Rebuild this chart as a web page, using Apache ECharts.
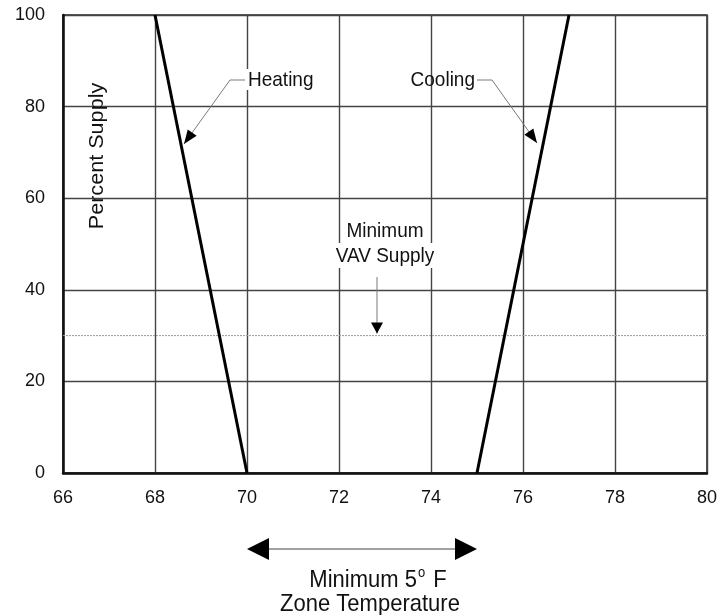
<!DOCTYPE html>
<html>
<head>
<meta charset="utf-8">
<script src="https://cdn.jsdelivr.net/npm/echarts@6/dist/echarts.min.js"></script>
<style>html,body{margin:0;padding:0;background:#fff}#c{width:720px;height:615px}</style>
</head>
<body>
<div id="c"></div>
<script>
// ---- data ----
const heatingTemp = [68, 70];
const heatingPct = [100, 0];
const coolingTemp = [75, 77];
const coolingPct = [0, 100];
const minVavPct = 30;
const xRange = [66, 80];
const yRange = [0, 100];
const xTickStep = 2;
const yTickStep = 20;
const deadbandTemp = [70, 75];

const FONT = '"Liberation Sans", Arial, sans-serif';
const chart = echarts.init(document.getElementById('c'));

const option = {
  animation: false,
  backgroundColor: '#fff',
  grid: { left: 63, right: 13, top: 15, bottom: 142, show: true, borderColor: '#222', borderWidth: 1.5 },
  xAxis: {
    type: 'value', min: xRange[0], max: xRange[1], interval: xTickStep,
    axisLine: { show: true, lineStyle: { color: '#111', width: 2.5 } },
    axisTick: { show: false },
    axisLabel: { color: '#111', fontSize: 18, fontFamily: FONT, margin: 16 },
    splitLine: { show: true, lineStyle: { color: '#444', width: 1.4 } }
  },
  yAxis: {
    type: 'value', min: yRange[0], max: yRange[1], interval: yTickStep,
    axisLine: { show: true, lineStyle: { color: '#111', width: 2.5 } },
    axisTick: { show: false },
    axisLabel: { color: '#111', fontSize: 18, fontFamily: FONT, margin: 18 },
    splitLine: { show: true, lineStyle: { color: '#444', width: 1.4 } }
  },
  series: [
    {
      type: 'line', name: 'MinVAV', symbol: 'none', silent: true,
      data: [[xRange[0], minVavPct], [xRange[1], minVavPct]],
      lineStyle: { color: '#999', width: 1, type: [2, 1] }, z: 1
    },
    {
      type: 'line', name: 'Heating', symbol: 'none',
      data: heatingTemp.map((t, i) => [t, heatingPct[i]]),
      lineStyle: { color: '#000', width: 3 }, z: 5
    },
    {
      type: 'line', name: 'Cooling', symbol: 'none',
      data: coolingTemp.map((t, i) => [t, coolingPct[i]]),
      lineStyle: { color: '#000', width: 3 }, z: 5
    }
  ]
};
chart.setOption(option);

const P = (x, y) => chart.convertToPixel({ gridIndex: 0 }, [x, y]);

function head(tip, from, L, W) {
  const dx = tip[0] - from[0], dy = tip[1] - from[1];
  const d = Math.hypot(dx, dy), ux = dx / d, uy = dy / d;
  const bx = tip[0] - ux * L, by = tip[1] - uy * L;
  return { type: 'polygon', z: 20, shape: { points: [tip, [bx - uy * W, by + ux * W], [bx + uy * W, by - ux * W]] }, style: { fill: '#000' } };
}
function line(pts, color) {
  return { type: 'polyline', z: 19, shape: { points: pts }, style: { stroke: color || '#7a7a7a', lineWidth: 1, fill: null } };
}
function txt(x, y, text, size, align) {
  return { type: 'text', z: 21, x: x, y: y, scaleY: 1.1, style: { text: text, fill: '#111', font: size + 'px ' + FONT, align: align || 'center', verticalAlign: 'middle' } };
}

const g = [];
// Heating annotation
const hTip = [184, 144];
const hKnee = [230, 80];
g.push({ type: 'rect', z: 18, shape: { x: 244, y: 69, width: 72, height: 21 }, style: { fill: '#fff' } });
g.push(txt(248, 80, 'Heating', 19, 'left'));
g.push(line([[245, 80], hKnee, hTip]));
g.push(head(hTip, hKnee, 14, 5.5));
// Cooling annotation
const cTip = [537, 143];
const cKnee = [492, 80];
g.push(txt(475, 80, 'Cooling', 19, 'right'));
g.push(line([[477, 80], cKnee, cTip]));
g.push(head(cTip, cKnee, 14, 5.5));
// Minimum VAV supply
const mvX = P(73, 0)[0];
g.push(txt(mvX, 231, 'Minimum', 19, 'center'));
g.push({ type: 'rect', z: 18, shape: { x: mvX - 50, y: 243, width: 100, height: 25 }, style: { fill: '#fff' } });
g.push(txt(mvX, 256, 'VAV Supply', 19, 'center'));
const mvTip = [mvX - 8, P(73, minVavPct)[1] - 2];
g.push(line([[mvX - 8, 277], mvTip]));
g.push(head(mvTip, [mvX - 8, 277], 11, 6));
// y axis title
g.push({ type: 'text', z: 21, x: 97, y: 156, rotation: Math.PI / 2, scaleX: 1.08, style: { text: 'Percent Supply', fill: '#111', font: '20px ' + FONT, align: 'center', verticalAlign: 'middle' } });
// bottom deadband arrow
const a0 = [P(deadbandTemp[0], 0)[0], 549];
const a1 = [P(deadbandTemp[1], 0)[0], 549];
g.push(line([[a0[0] + 20, 549], [a1[0] - 20, 549]], '#444'));
g.push(head(a0, [a0[0] + 30, 549], 22, 11));
g.push(head(a1, [a1[0] - 30, 549], 22, 11));
const bx = (a0[0] + a1[0]) / 2;
g.push({ type: 'text', z: 21, x: bx + 16, y: 580, scaleY: 1.1, style: {
  text: 'Minimum 5{s|o} F', fill: '#111', font: '22px ' + FONT, align: 'center', verticalAlign: 'middle',
  rich: { s: { fontSize: 13, fontFamily: FONT, fill: '#111', verticalAlign: 'top', lineHeight: 26, padding: [0, 2, 0, 1] } }
} });
g.push(txt(bx + 8, 604, 'Zone Temperature', 22, 'center'));

chart.setOption({ graphic: g });
</script>
</body>
</html>
